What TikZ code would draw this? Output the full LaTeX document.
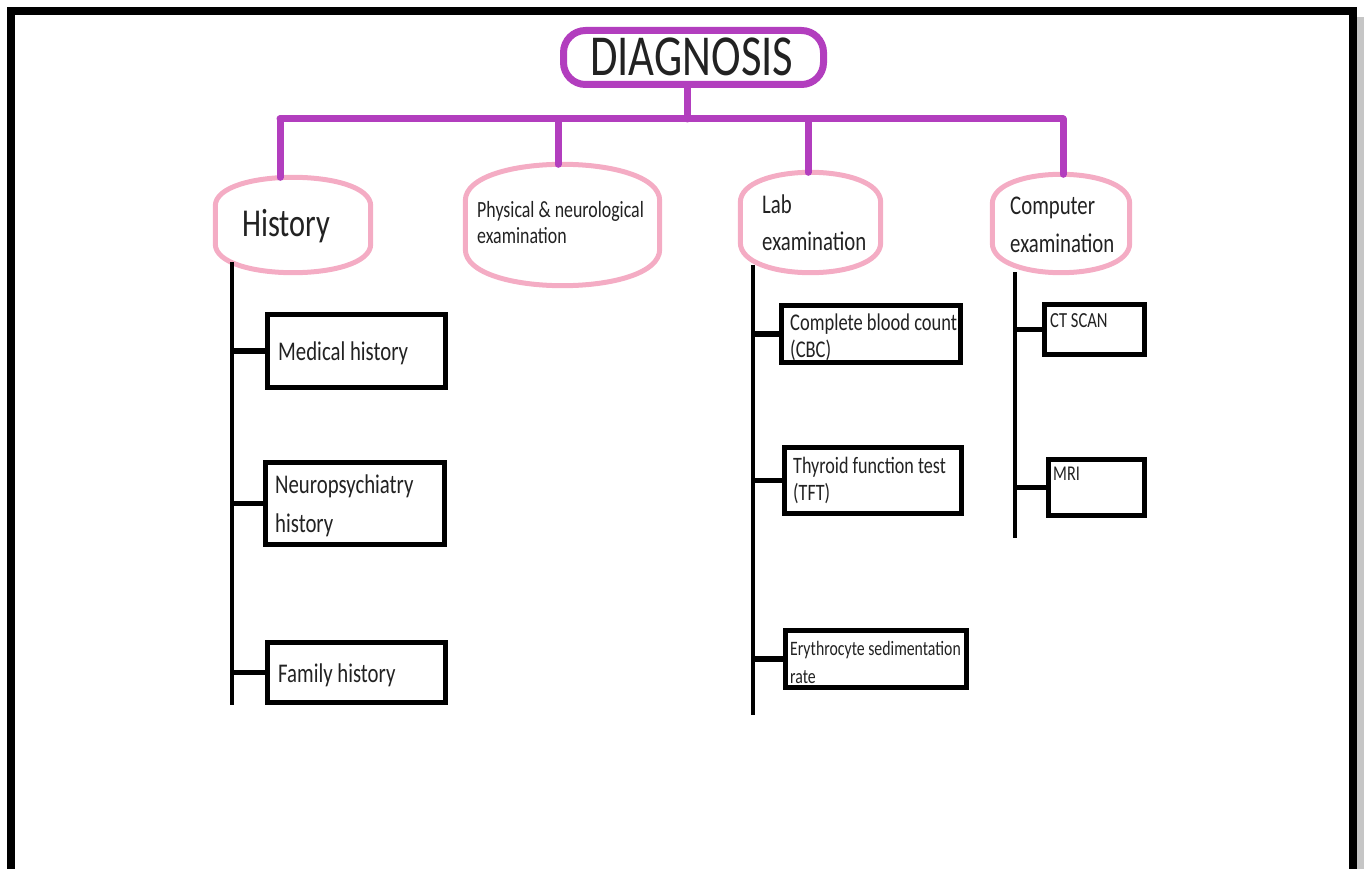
\documentclass[tikz,border=0pt]{standalone}
\usepackage{fontspec}
\setmainfont{Carlito}[FakeStretch=0.77]
\usetikzlibrary{calc}
\definecolor{diagpurple}{RGB}{178,62,190}
\definecolor{diagpink}{RGB}{244,172,196}
\definecolor{txtcol}{RGB}{34,34,34}
\newcommand{\txt}[3]{\fontsize{#1}{#2}\selectfont\begin{tabular}[t]{@{}l@{}}#3\end{tabular}}
\newcommand{\barrel}[1]{%
  \draw[pinkline] ($(#1.north west)!0.3!(#1.south west)$)
    .. controls ($(#1.north west)!-0.1!(#1.south west)$) and ($(#1.north east)!-0.1!(#1.south east)$) ..
    ($(#1.north east)!0.3!(#1.south east)$)
    -- ($(#1.north east)!0.7!(#1.south east)$)
    .. controls ($(#1.north east)!1.1!(#1.south east)$) and ($(#1.north west)!1.1!(#1.south west)$) ..
    ($(#1.north west)!0.7!(#1.south west)$) -- cycle;}
\tikzset{
  pinkline/.style={draw=diagpink, line width=5pt, line join=round},
  shapebox/.style={draw=none, inner sep=0pt},
  blackbox/.style={draw=black, line width=5pt, inner sep=0pt, fill=white},
  label/.style={anchor=base west, inner sep=0pt, text=txtcol},
  purpleline/.style={draw=diagpurple, line width=7pt, line cap=round},
  trunk/.style={draw=black, line width=4pt},
  branch/.style={draw=black, line width=5.5pt},
}
\begin{document}
\begin{tikzpicture}[x=1pt, y=-1pt]
\useasboundingbox (0,0) rectangle (1364,869);
% frame
\fill[gray!45] (1357,17) rectangle (1364,869);
\draw[line width=8pt] (11,872) -- (11,11) -- (1353,11) -- (1353,872);

% root
\node[draw=diagpurple, line width=7pt, rounded corners=22pt, minimum width=260pt, minimum height=54pt, inner sep=0pt] (diag) at (693.5,57.5) {};
\node[label] (diagt) at (590,76) {\txt{58}{60}{DIAGNOSIS}};

% pink shapes
\node[shapebox, minimum width=155pt, minimum height=95pt] (hist) at (293,225) {};
\node[shapebox, minimum width=194pt, minimum height=121pt] (phys) at (562.5,225) {};
\node[shapebox, minimum width=140pt, minimum height=100pt] (lab) at (810.5,222.5) {};
\node[shapebox, minimum width=137pt, minimum height=98pt] (comp) at (1061,223.5) {};
\barrel{hist}
\barrel{phys}
\barrel{lab}
\barrel{comp}
\node[label] (histt) at (242,236) {\txt{39.5}{42}{History}};
\node[label] (physt) at (477,217) {\txt{23.2}{26}{Physical \& neurological\\examination}};
\node[label] (labt) at (762,213) {\txt{27}{37}{Lab\\examination}};
\node[label] (compt) at (1010,214) {\txt{27}{38}{Computer\\examination}};

% purple connectors
\coordinate (bar) at (687,119);
\coordinate (b1) at (280,119);
\coordinate (b2) at (558,119);
\coordinate (b3) at (808,119);
\coordinate (b4) at (1063,119);
\draw[purpleline] (diag.south -| bar) -- (bar);
\draw[purpleline] (b1) -- (b4);
\draw[purpleline] (b1) -- (b1 |- hist.north);
\draw[purpleline] (b2) -- (b2 |- phys.north);
\draw[purpleline] (b3) -- (b3 |- lab.north);
\draw[purpleline] (b4) -- (b4 |- comp.north);

% black boxes
\node[blackbox, minimum width=178pt, minimum height=73pt] (med) at (356.5,351) {};
\node[blackbox, minimum width=179pt, minimum height=82pt] (neuro) at (355,503.5) {};
\node[blackbox, minimum width=178pt, minimum height=60pt] (fam) at (356.5,672.5) {};
\node[blackbox, minimum width=179pt, minimum height=57pt] (cbc) at (871,334) {};
\node[blackbox, minimum width=177pt, minimum height=66pt] (tft) at (873,480.5) {};
\node[blackbox, minimum width=181pt, minimum height=57pt] (esr) at (876,659) {};
\node[blackbox, minimum width=100pt, minimum height=50pt] (ct) at (1094.5,329.5) {};
\node[blackbox, minimum width=96pt, minimum height=56pt] (mri) at (1096.5,487.5) {};

\node[label] (medt) at (278,360) {\txt{27}{38}{Medical history}};
\node[label] (neurot) at (275,493) {\txt{27}{39}{Neuropsychiatry\\history}};
\node[label] (famt) at (278,682) {\txt{27}{38}{Family history}};
\node[label] (cbct) at (790,330) {\txt{24}{27}{Complete blood count\\(CBC)}};
\node[label] (tftt) at (793,473) {\txt{23.5}{27}{Thyroid function test\\(TFT)}};
\node[label] (esrt) at (790,655) {\txt{20.5}{28}{Erythrocyte sedimentation\\rate}};
\node[label] (ctt) at (1050,327) {\txt{21.5}{24}{CT SCAN}};
\node[label] (mrit) at (1053,480) {\txt{21}{24}{MRI}};

% trunks
\coordinate (h0) at (232,262);
\coordinate (h1) at (232,705);
\coordinate (l0) at (753,265);
\coordinate (l1) at (753,715);
\coordinate (c0) at (1015,272);
\coordinate (c1) at (1015,538);
\draw[trunk] (h0) -- (h1);
\draw[trunk] (l0) -- (l1);
\draw[trunk] (c0) -- (c1);
\draw[branch] (h0 |- med.west) -- (med.west);
\draw[branch] (h0 |- neuro.west) -- (neuro.west);
\draw[branch] (h0 |- fam.west) -- (fam.west);
\draw[branch] (l0 |- cbc.west) -- (cbc.west);
\draw[branch] (l0 |- tft.west) -- (tft.west);
\draw[branch] (l0 |- esr.west) -- (esr.west);
\draw[branch] (c0 |- ct.west) -- (ct.west);
\draw[branch] (c0 |- mri.west) -- (mri.west);
\end{tikzpicture}
\end{document}
